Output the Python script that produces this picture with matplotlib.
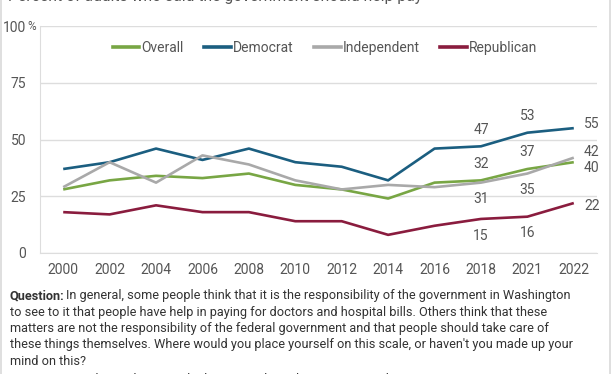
import matplotlib
matplotlib.use("Agg")
import matplotlib.pyplot as plt
from matplotlib.lines import Line2D

plt.rcParams['font.family'] = ['Roboto', 'DejaVu Sans']

# data
years = ['2000', '2002', '2004', '2006', '2008', '2010', '2012',
         '2014', '2016', '2018', '2021', '2022']
overall = [28, 32, 34, 33, 35, 30, 28, 24, 31, 32, 37, 40]
democrat = [37, 40, 46, 41, 46, 40, 38, 32, 46, 47, 53, 55]
independent = [29, 40, 31, 43, 39, 32, 28, 30, 29, 31, 35, 42]
republican = [18, 17, 21, 18, 18, 14, 14, 8, 12, 15, 16, 22]
yticks = [0, 25, 50, 75, 100]

series = [
    ('Overall', overall, '#78a644'),
    ('Democrat', democrat, '#1b5e80'),
    ('Independent', independent, '#a9a9a9'),
    ('Republican', republican, '#8a1c3e'),
]
# label placement for 2018/2021: above or below the point
above = {'Overall': True, 'Democrat': True, 'Independent': False, 'Republican': False}
# end labels at 2022: vertical nudge in px
end_nudge = {'Overall': -6, 'Democrat': 4, 'Independent': 6, 'Republican': -3}

txt = '#555555'
grid = '#dddddd'

W, H = 612, 374
fig = plt.figure(figsize=(W / 100, H / 100), dpi=100)
ax = fig.add_axes([40 / W, 1 - 253 / H, (597 - 40) / W, (253 - 26) / H])

x = list(range(len(years)))
for name, vals, col in series:
    ax.plot(x, vals, color=col, lw=1.9, solid_capstyle='butt', zorder=3)
    for i in (9, 10):
        dy = 12 if above[name] else -12
        ax.annotate(str(vals[i]), (i, vals[i]), xytext=(0, dy),
                    textcoords='offset points', ha='center', va='center',
                    fontsize=10, color=txt)
    ax.annotate(str(vals[-1]), (11, vals[-1]),
                xytext=(13, end_nudge[name] * 0.72), textcoords='offset points',
                ha='center', va='center', fontsize=10, color=txt)

ax.set_xlim(-0.5, 11.5)
ax.set_ylim(0, 100)
ax.set_xticks(x)
ax.set_xticklabels(years)
ax.set_yticks(yticks)
ax.set_yticklabels(['0', '25', '50', '75', '100'])
ax.tick_params(axis='both', length=0, labelsize=10, labelcolor=txt)
ax.tick_params(axis='x', pad=7)
ax.tick_params(axis='y', pad=10)
ax.grid(axis='y', color=grid, lw=1)
ax.set_axisbelow(True)
for s in ('top', 'right'):
    ax.spines[s].set_visible(False)
ax.spines['left'].set_color(grid)
ax.spines['bottom'].set_color(grid)
fig.text(27 / W, 1 - 26 / H, '%', fontsize=8.5, color=txt, va='center', ha='left')

handles = [Line2D([], [], color=c, lw=2.6) for _, _, c in series]
fig.legend(handles, [n for n, _, _ in series], loc='center', ncol=4,
           bbox_to_anchor=(325 / W, 1 - 48 / H), frameon=False,
           fontsize=10, labelcolor=txt, handlelength=1.9, handletextpad=0.15,
           columnspacing=1.5)

fig.text(8 / W, 1 - 1 / H, 'Percent of adults who said the government should help pay',
         fontsize=11.3, color=txt, va='baseline', ha='left')

question = ("In general, some people think that it is the responsibility of the government in Washington\n"
            "to see to it that people have help in paying for doctors and hospital bills. Others think that these\n"
            "matters are not the responsibility of the federal government and that people should take care of\n"
            "these things themselves. Where would you place yourself on this scale, or haven't you made up your\n"
            "mind on this?")
qsize = 9.2
lines = question.split('\n')
y0 = 296
for k, line in enumerate(lines):
    yy = 1 - (y0 + 16.3 * k) / H
    if k == 0:
        t = fig.text(10 / W, yy, 'Question:', fontsize=qsize, fontweight='bold',
                     color='#333333', va='center', ha='left')
        fig.canvas.draw()
        bb = t.get_window_extent()
        fig.text((bb.x1 + 1) / W, yy, line, fontsize=qsize, color='#333333',
                 va='center', ha='left')
    else:
        fig.text(10 / W, yy, line, fontsize=qsize, color='#333333', va='center', ha='left')
yy = 1 - (y0 + 16.3 * 5 + 2) / H
t = fig.text(10 / W, yy, 'Source:', fontsize=qsize, fontweight='bold',
             color='#333333', va='center', ha='left')
fig.canvas.draw()
bb = t.get_window_extent()
fig.text((bb.x1 + 1) / W, yy, 'General Social Survey, the latest conducted May 5 - December 20, 2022',
         fontsize=qsize, color='#333333', va='center', ha='left')

# thin frame at the sides
fig.add_artist(Line2D([1 / W, 1 / W], [0, 1], color='#d9d9d9', lw=1.2))
fig.add_artist(Line2D([1 - 2 / W, 1 - 2 / W], [0, 1], color='#d9d9d9', lw=1.2))

fig.savefig('out.png', dpi=100)
